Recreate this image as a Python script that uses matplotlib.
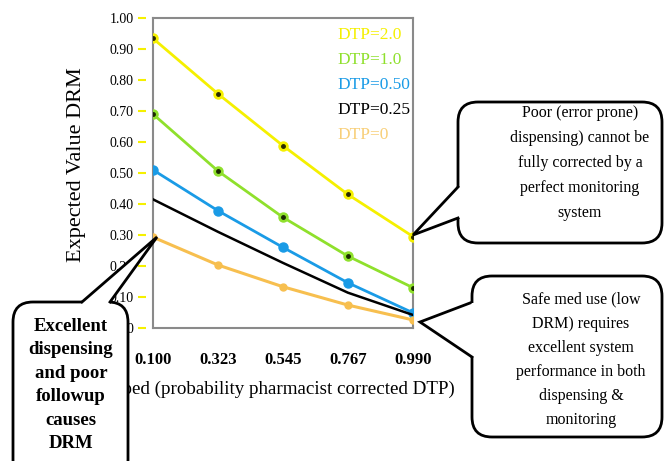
import matplotlib
matplotlib.use('Agg')
import matplotlib.pyplot as plt
from matplotlib.patches import FancyBboxPatch, Polygon

#---- Data -------------------------------------------------------------------#

pped = [0.100, 0.323, 0.545, 0.767, 0.990]
x_labels = ['0.100', '0.323', '0.545', '0.767', '0.990']
y_ticks = [0, 0.1, 0.2, 0.3, 0.4, 0.5, 0.6, 0.7, 0.8, 0.9, 1.0]
y_labels = ['0', '0.10', '0.20', '0.30', '0.40', '0.50', '0.60',
            '0.70', '0.80', '0.90', '1.00']

drm_20 = [0.934, 0.755, 0.588, 0.431, 0.295]
drm_10 = [0.690, 0.506, 0.357, 0.232, 0.130]
drm_05 = [0.510, 0.378, 0.260, 0.146, 0.049]
drm_025 = [0.415, 0.310, 0.210, 0.114, 0.042]
drm_0 = [0.293, 0.203, 0.133, 0.074, 0.026]

series_labels = ['DTP=2.0', 'DTP=1.0', 'DTP=0.50', 'DTP=0.25', 'DTP=0']

#---- Plotting ---------------------------------------------------------------#

plt.rcParams['font.family'] = ['Liberation Serif', 'DejaVu Serif']

fig = plt.figure(figsize=(6.65, 4.61), dpi=100)
W, H = 665, 461
ax = fig.add_axes([153/W, (H-328)/H, (413-153)/W, (328-18)/H])

yellow = '#f5f000'
green = '#8fe02c'
blue = '#1a9be6'
orange = '#f7bf4f'

ax.plot(pped, drm_20, color=yellow, lw=2, marker='o', ms=6.5, mec=yellow, mfc=yellow, zorder=3)
ax.plot(pped, drm_20, ls='none', marker='o', ms=2.5, color='#2a2a00', zorder=4)
ax.plot(pped, drm_10, color=green, lw=2, marker='o', ms=6.5, mec=green, mfc=green, zorder=3)
ax.plot(pped, drm_10, ls='none', marker='o', ms=2.5, color='#1a2a00', zorder=4)
ax.plot(pped, drm_05, color=blue, lw=2, marker='o', ms=6.5, mec=blue, mfc=blue, zorder=3)
ax.plot(pped, drm_025, color='black', lw=1.8, zorder=3)
ax.plot(pped, drm_0, color=orange, lw=2.2, marker='o', ms=5, mec=orange, mfc=orange, zorder=3)

ax.set_xlim(0.1, 0.99)
ax.set_ylim(0, 1.0)
ax.set_xticks(pped)
ax.set_xticklabels(x_labels, fontsize=12, fontweight='bold')
ax.set_yticks(y_ticks)
ax.set_yticklabels(y_labels, fontsize=12.5, fontweight='bold')
ax.tick_params(axis='x', length=0, pad=17)
ax.tick_params(axis='y', length=6, width=1.5, color=yellow, pad=3)

for s in ['top', 'right', 'bottom']:
    ax.spines[s].set_color('#8a8a8a')
    ax.spines[s].set_linewidth(1.5)
ax.spines['left'].set_position(('outward', 5))
ax.spines['left'].set_visible(False)
ax.plot([0, 0], [0, 1], transform=ax.transAxes, color='#8a8a8a', lw=1.5, clip_on=False)

ax.set_ylabel('Expected Value DRM', fontsize=16)
ax.yaxis.set_label_coords(-0.258, 0.526)
ax.set_xlabel('Pped (probability pharmacist corrected DTP)', fontsize=13.7)
ax.xaxis.set_label_coords(0.5, -0.171)

# legend as coloured text
leg_colors = [yellow, '#8fe02c', blue, 'black', '#f8cf78']
for i, (lab, c) in enumerate(zip(series_labels, leg_colors)):
    ax.text(0.71, 0.945 - i*0.081, lab, color=c, fontsize=12.5,
            transform=ax.transAxes, va='center', ha='left')

#---- Callouts ---------------------------------------------------------------#

ov = fig.add_axes([0, 0, 1, 1], facecolor='none')
ov.set_xlim(0, W)
ov.set_ylim(H, 0)
ov.axis('off')

def callout(x0, y0, x1, y1, base1, base2, tip, text, tx, ty, bold=False, fs=11.5, ls=1.6):
    box = FancyBboxPatch((x0, y0), x1-x0, y1-y0, boxstyle='round,pad=0,rounding_size=20',
                         fc='white', ec='black', lw=2, zorder=5)
    ov.add_patch(box)
    # push base points into the box so the fill hides the box edge there
    if base1[1] == base2[1]:
        inner = [(base1[0], base1[1]+4), (base2[0], base2[1]+4)]
    else:
        inner = [(base1[0]+4, base1[1]), (base2[0]+4, base2[1])]
    ov.add_patch(Polygon([inner[0], base1, tip, base2, inner[1]], closed=True,
                         fc='white', ec='none', zorder=6))
    ov.plot([base1[0], tip[0], base2[0]], [base1[1], tip[1], base2[1]],
            color='black', lw=2, zorder=7, solid_joinstyle='miter')
    ov.text(tx, ty, text, ha='center', va='center', fontsize=fs,
            fontweight='bold' if bold else 'normal', linespacing=ls, zorder=8)

callout(458, 102, 662, 243, (458, 187), (458, 218), (413, 235),
        'Poor (error prone)\ndispensing) cannot be\nfully corrected by a\nperfect monitoring\nsystem',
        tx=580, ty=163, ls=1.75)
callout(472, 276, 662, 437, (470, 303), (472, 357), (420, 322),
        'Safe med use (low\nDRM) requires\nexcellent system\nperformance in both\ndispensing &\nmonitoring',
        tx=581, ty=360, ls=1.68)
callout(13, 302, 128, 480, (82, 302), (110, 302), (157, 237),
        'Excellent\ndispensing\nand poor\nfollowup\ncauses\nDRM',
        tx=71, ty=385, bold=True, fs=13.5, ls=1.5)

plt.savefig('out.png', dpi=100)
